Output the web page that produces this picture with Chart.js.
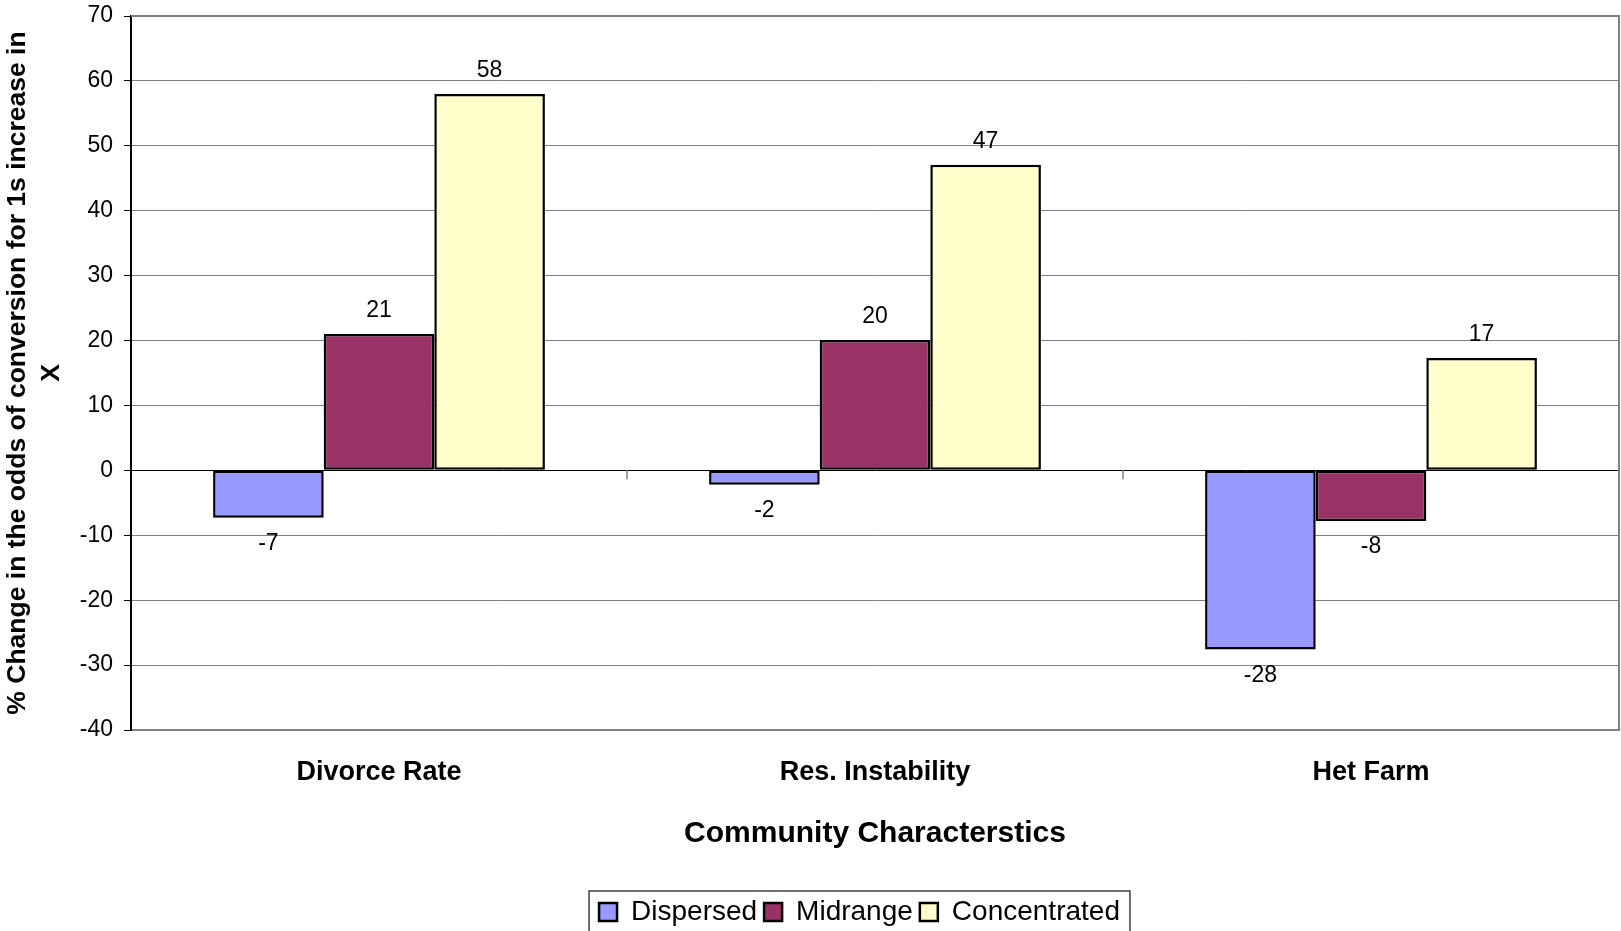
<!DOCTYPE html>
<html lang="en">
<head>
<meta charset="UTF-8">
<title>Community Characterstics</title>
<script src="https://cdn.jsdelivr.net/npm/chart.js@4.4.1/dist/chart.umd.min.js"></script>
<style>
  html, body { margin: 0; padding: 0; background: #fff; }
  #wrap { width: 1621px; height: 931px; position: relative; }
</style>
</head>
<body>
<div id="wrap"><canvas id="grafico"></canvas></div>
<script>
// Data
const categorias = ['Divorce Rate', 'Res. Instability', 'Het Farm'];
const dispersed = [-7.3, -2.2, -27.6];
const midrange = [21.0, 20.1, -7.8];
const concentrated = [58.0, 47.1, 17.3];
const yMin = -40;
const yMax = 70;
const yStep = 10;

const FONTE = '"Liberation Sans", Arial, sans-serif';

// Plot area frame + small category ticks on the zero line
const molduraPlot = {
    id: 'molduraPlot',
    beforeDatasetsDraw(chart) {
        const {ctx, chartArea: a, scales: {x, y}} = chart;
        ctx.save();
        ctx.strokeStyle = '#808080';
        ctx.lineWidth = 2;
        ctx.beginPath();
        ctx.moveTo(a.left, a.top);
        ctx.lineTo(a.right, a.top);
        ctx.lineTo(a.right, a.bottom);
        ctx.lineTo(a.left + 1, a.bottom);
        ctx.stroke();

        const y0 = y.getPixelForValue(0);
        ctx.lineWidth = 1.5;
        ctx.beginPath();
        for (let i = 0; i < categorias.length - 1; i++) {
            const bx = (x.getPixelForValue(i) + x.getPixelForValue(i + 1)) / 2;
            ctx.moveTo(bx, y0);
            ctx.lineTo(bx, y0 + 9);
        }
        ctx.stroke();
        ctx.restore();
    }
};

// Value labels above / below each bar
const rotulosBarras = {
    id: 'rotulosBarras',
    afterDatasetsDraw(chart) {
        const {ctx} = chart;
        ctx.save();
        ctx.font = '23px ' + FONTE;
        ctx.fillStyle = '#000';
        ctx.textAlign = 'center';
        ctx.textBaseline = 'middle';
        chart.data.datasets.forEach((ds, di) => {
            chart.getDatasetMeta(di).data.forEach((bar, i) => {
                const v = ds.data[i];
                const yTxt = v >= 0 ? bar.y - 23 : bar.y + 26;
                ctx.fillText(String(Math.round(v)), bar.x, yTxt);
            });
        });
        ctx.restore();
    }
};

// Move the legend a bit and draw its box
const caixaLegenda = {
    id: 'caixaLegenda',
    afterLayout(chart) {
        const lg = chart.legend;
        lg.left += 50; lg.right += 50;
        lg.top += 5; lg.bottom += 5;
    },
    afterDraw(chart) {
        const hb = chart.legend.legendHitBoxes;
        if (!hb || !hb.length) return;
        const ult = hb[hb.length - 1];
        const esq = hb[0].left - 10;
        const dir = ult.left + ult.width + 10;
        const topo = hb[0].top + hb[0].height / 2 - 21;
        const {ctx} = chart;
        ctx.save();
        ctx.strokeStyle = '#404040';
        ctx.lineWidth = 1.5;
        ctx.strokeRect(esq, topo, dir - esq, chart.height - topo + 5);
        ctx.restore();
    }
};

const ctx = document.getElementById('grafico').getContext('2d');
new Chart(ctx, {
    type: 'bar',
    data: {
        labels: categorias,
        datasets: [
            {label: 'Dispersed', data: dispersed, backgroundColor: '#9999FF'},
            {label: 'Midrange', data: midrange, backgroundColor: '#993366'},
            {label: 'Concentrated', data: concentrated, backgroundColor: '#FFFFCC'}
        ].map(d => Object.assign(d, {
            borderColor: '#000',
            borderWidth: 2.5,
            borderSkipped: false,
            categoryPercentage: 0.669,
            barPercentage: 1
        }))
    },
    options: {
        responsive: true,
        maintainAspectRatio: false,
        animation: false,
        layout: {padding: {top: 16, right: 2, left: 0, bottom: 0}},
        plugins: {
            legend: {
                display: true,
                position: 'bottom',
                labels: {
                    color: '#000',
                    font: {family: FONTE, size: 28},
                    boxWidth: 18,
                    boxHeight: 18,
                    padding: 7
                }
            },
            tooltip: {enabled: false},
            title: {display: false}
        },
        scales: {
            y: {
                min: yMin,
                max: yMax,
                afterFit(scale) {
                    scale.width = 131;
                    // the top label only needs half its height above the plot
                    scale.paddingTop = 0;
                    scale.paddingBottom = 0;
                },
                ticks: {
                    stepSize: yStep,
                    color: '#000',
                    padding: 11,
                    font: {family: FONTE, size: 23}
                },
                grid: {
                    color: c => (c.tick && c.tick.value === 0 ? '#000' : '#808080'),
                    tickColor: '#000',
                    tickLength: 7,
                    lineWidth: 1
                },
                border: {display: true, color: '#000', width: 2},
                title: {
                    display: true,
                    text: ['% Change in the odds of conversion for 1s increase in', 'X'],
                    color: '#000',
                    font: {family: FONTE, size: 26.5, weight: 'bold', lineHeight: 1.3},
                    padding: {top: 0, bottom: 0}
                }
            },
            x: {
                afterFit(scale) { scale.height = 156; },
                ticks: {
                    color: '#000',
                    padding: 26,
                    font: {family: FONTE, size: 27, weight: 'bold'}
                },
                grid: {display: false, drawTicks: false},
                border: {display: false},
                title: {
                    display: true,
                    text: 'Community Characterstics',
                    color: '#000',
                    font: {family: FONTE, size: 30, weight: 'bold', lineHeight: 1.2},
                    padding: {top: 0, bottom: 34}
                }
            }
        }
    },
    plugins: [molduraPlot, rotulosBarras, caixaLegenda]
});
</script>
</body>
</html>
